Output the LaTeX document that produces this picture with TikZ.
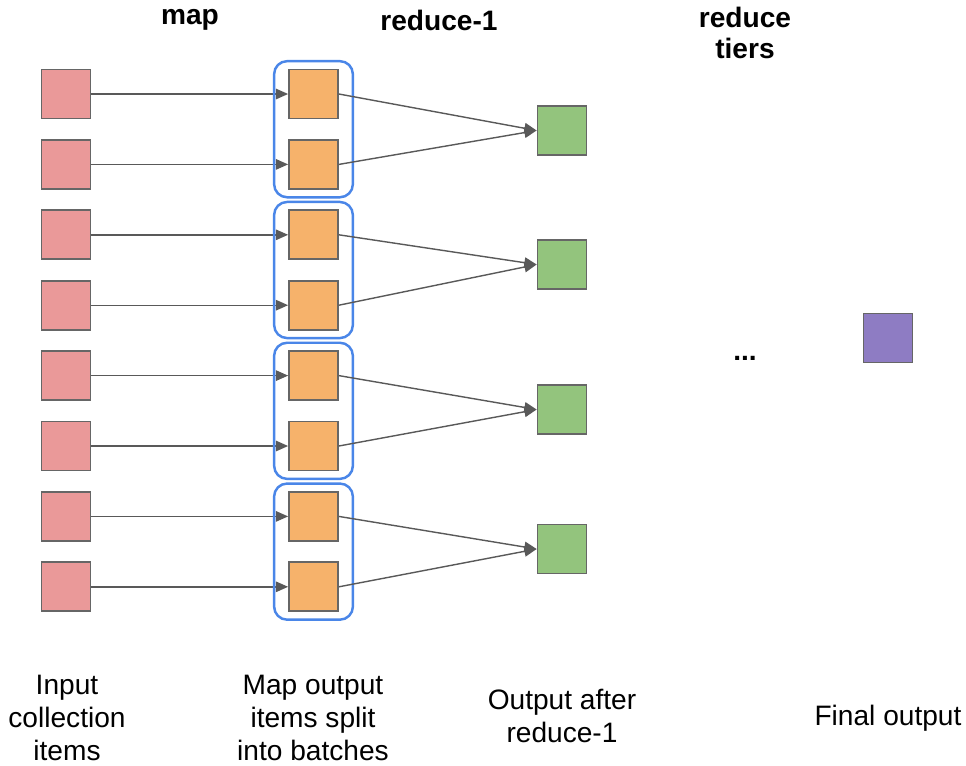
\documentclass[tikz,border=0pt]{standalone}
\usepackage{fontspec}
\setmainfont{Liberation Sans}
\usetikzlibrary{arrows.meta, fit}

\definecolor{inred}{HTML}{EA9999}
\definecolor{maporange}{HTML}{F6B26B}
\definecolor{redgreen}{HTML}{93C47D}
\definecolor{finalpurple}{HTML}{8E7CC3}
\definecolor{batchblue}{HTML}{4A86E8}

\tikzset{
  box/.style={draw=black!60, line width=1pt, minimum size=0.98cm, inner sep=0pt},
  link/.style={draw=black!65, line width=0.8pt, -{Triangle[length=7pt,width=6pt]}},
  batch/.style={draw=batchblue, line width=1.4pt, rounded corners=0.26cm,
    inner xsep=0.28cm, inner ysep=0.15cm},
  head/.style={font=\fontsize{16}{17.6}\selectfont\bfseries, align=center},
  caption/.style={font=\fontsize{16}{18.7}\selectfont, align=center}
}

\begin{document}
\begin{tikzpicture}[x=0.02cm, y=-0.02cm]
    \useasboundingbox (0,0) rectangle (966,765);
    % Column headings
    \node[head] (hmap) at (190,20) {map};
    \node[head] (hred) at (439,20) {reduce-1};
    \node[head] (htiers) at (745,33) {reduce\\tiers};
    % Input items and map outputs
    \foreach \i in {1,...,8} {
        \node[box, fill=inred] (in\i) at (66, {94+70.4*(\i-1)}) {};
        \node[box, fill=maporange] (m\i) at (313.5, {94+70.4*(\i-1)}) {};
        \draw[link] (in\i) -- (m\i);
    }
    % Batches and reduce-1 outputs
    \foreach \b/\y in {1/130.5, 2/264.5, 3/409.5, 4/549} {
        \pgfmathtruncatemacro{\ia}{2*\b-1}
        \pgfmathtruncatemacro{\ib}{2*\b}
        \node[batch, fit=(m\ia)(m\ib)] (batch\b) {};
        \node[box, fill=redgreen] (r\b) at (562,\y) {};
        \draw[link] (m\ia.east) -- (r\b.west);
        \draw[link] (m\ib.east) -- (r\b.west);
    }
    % Further tiers and final output
    \node[head, anchor=base] (dots) at (745,360) {...};
    \node[box, fill=finalpurple] (final) at (888,338) {};
    % Captions
    \node[caption] (cin) at (67,718) {Input\\collection\\items};
    \node[caption] (cmap) at (313,718) {Map output\\items split\\into batches};
    \node[caption] (cred) at (562,716) {Output after\\reduce-1};
    \node[caption] (cfinal) at (888,718) {Final output};
\end{tikzpicture}
\end{document}
